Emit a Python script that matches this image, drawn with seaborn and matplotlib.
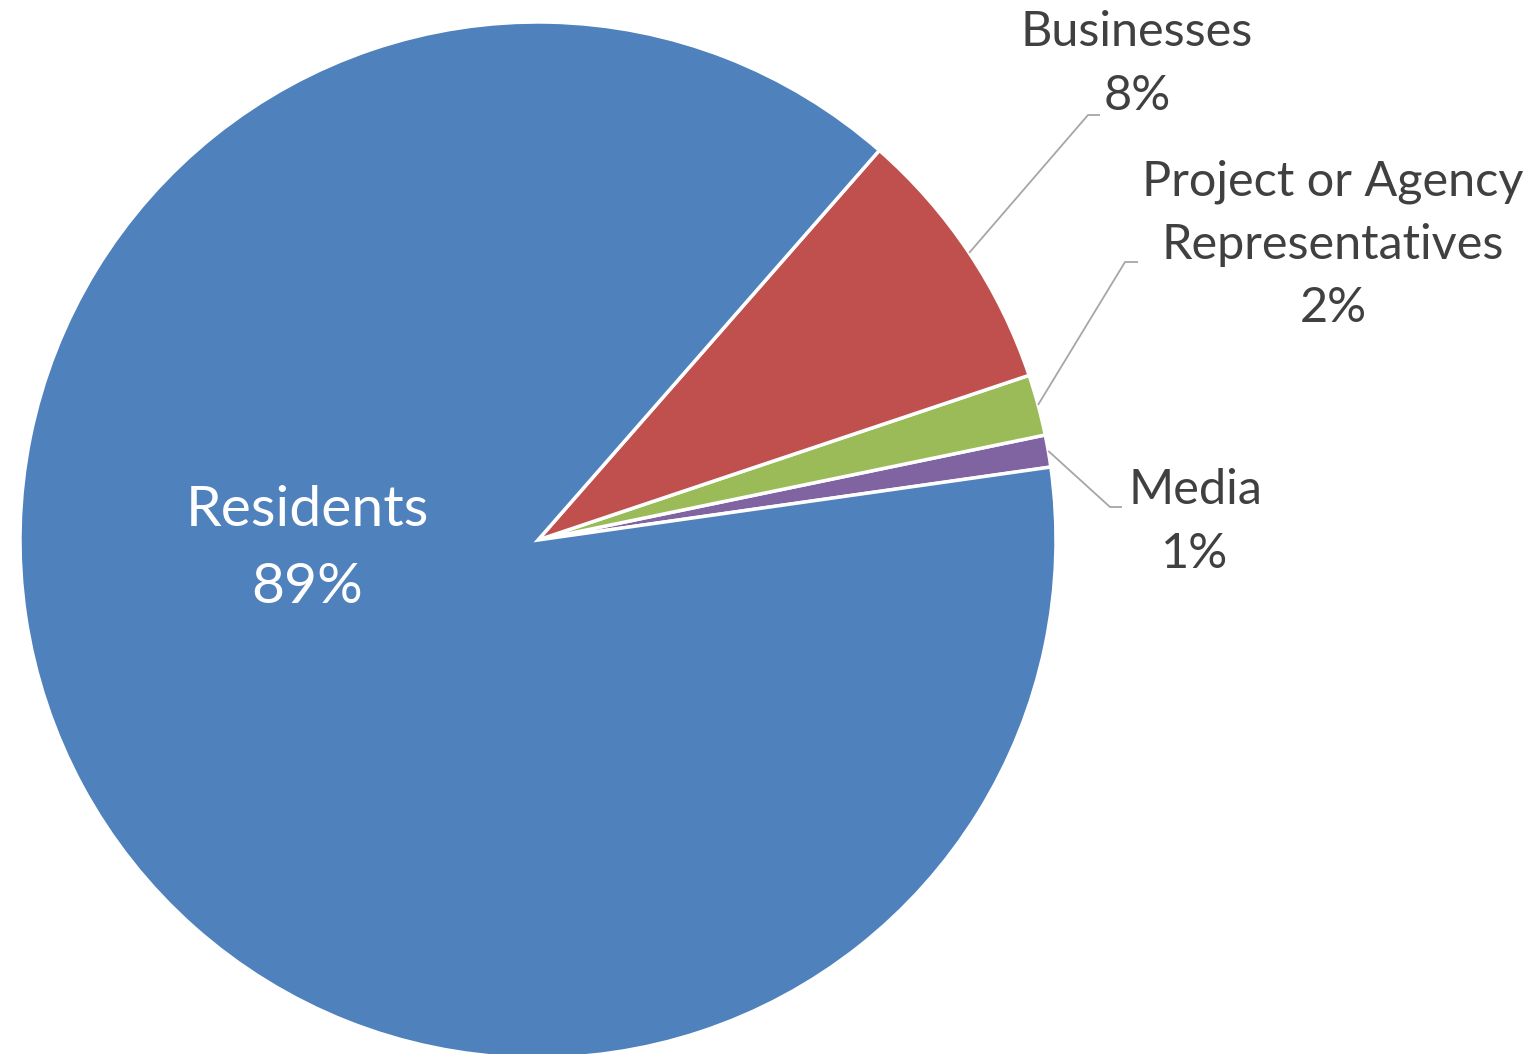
import numpy as np
import matplotlib
matplotlib.use("Agg")
import matplotlib.pyplot as plt
import seaborn as sns

sns.set_theme(style="white")
plt.rcParams['font.family'] = ['Lato', 'DejaVu Sans']

# Data (counter-clockwise order starting just above 3 o'clock)
categories = ["Media", "Project or Agency\nRepresentatives", "Businesses", "Residents"]
values = [1.0, 1.9, 8.4, 88.7]
colors = ["#8064A2", "#9BBB59", "#C0504D", "#4F81BD"]

W, H = 1530, 1054
cx, cy, R = 538, H - 540, 518

fig = plt.figure(figsize=(W / 100, H / 100), dpi=100)
ax = fig.add_axes([0, 0, 1, 1])
wedges, _ = ax.pie(values, colors=colors, startangle=8.1, counterclock=True,
                   radius=R, center=(cx, cy),
                   wedgeprops=dict(edgecolor="white", linewidth=2.5))
ax.set_xlim(0, W)
ax.set_ylim(0, H)
ax.set_aspect("equal")
ax.axis("off")

total = sum(values)
pcts = [f"{round(v / total * 100):d}%" for v in values]

txt_color = "#404040"
line_color = "#A6A6A6"
fs = 35

# outside labels: (text center x, text center y from top), elbow point, end point
layout = {
    0: dict(pos=(1195, 522), elbow=(1110, 507), end=(1122, 507)),
    1: dict(pos=(1333, 245), elbow=(1125, 262), end=(1138, 262)),
    2: dict(pos=(1137, 64), elbow=(1088, 115), end=(1100, 115)),
}
for i, lay in layout.items():
    w = wedges[i]
    mid = np.deg2rad((w.theta1 + w.theta2) / 2)
    ax0 = cx + R * np.cos(mid)
    ay0 = cy + R * np.sin(mid)
    ex, ey = lay["elbow"]
    nx, ny = lay["end"]
    ax.plot([ax0, ex, nx], [ay0, H - ey, H - ny], color=line_color, lw=1.3,
            solid_capstyle="butt")
    ax.text(lay["pos"][0], H - lay["pos"][1], f"{categories[i]}\n{pcts[i]}",
            ha="center", va="center", fontsize=fs, color=txt_color,
            linespacing=1.53)

# inside label for Residents
ax.text(307, H - 549, f"{categories[3]}\n{pcts[3]}", ha="center", va="center",
        fontsize=41, color="white", linespacing=1.62)

fig.savefig("out.png", dpi=100)
